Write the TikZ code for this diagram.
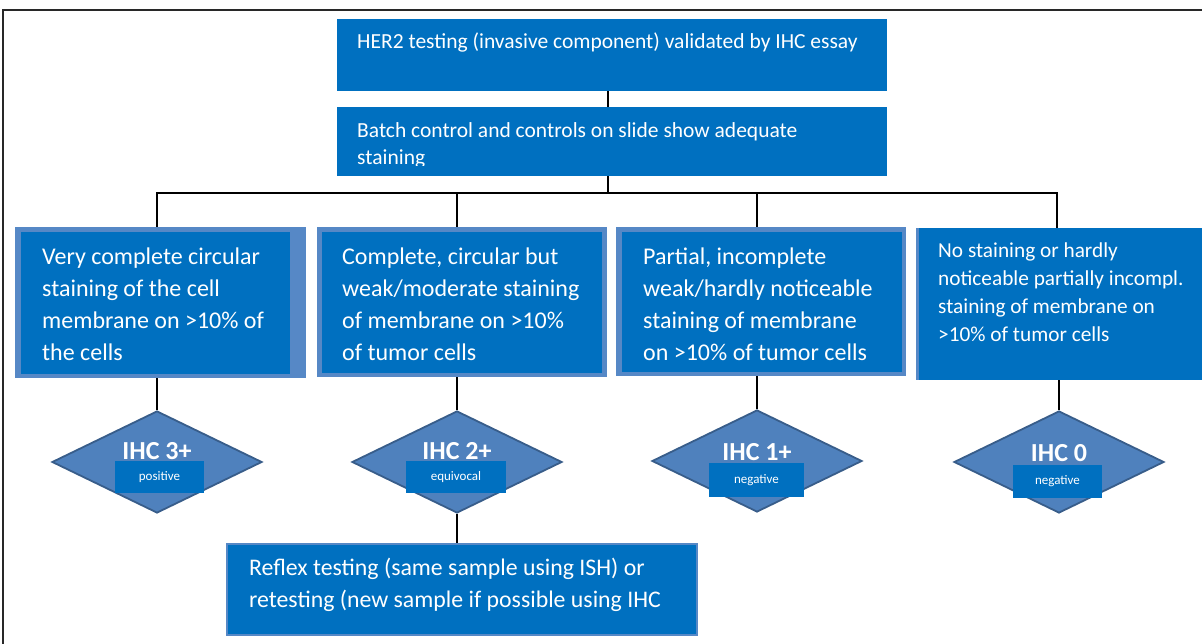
\documentclass[tikz,border=0pt]{standalone}
\usepackage{fontspec}
\setmainfont{Carlito}
\usetikzlibrary{shapes.geometric,calc}
\definecolor{mainblue}{RGB}{0,112,192}
\definecolor{lightblue}{RGB}{86,136,198}
\definecolor{diafill}{RGB}{79,129,189}
\definecolor{diaedge}{RGB}{56,93,138}
\definecolor{framegray}{RGB}{40,40,40}
\newcommand{\tlines}[2]{\parbox[t]{#1}{\raggedright #2}}
\begin{document}
\begin{tikzpicture}[x=1pt,y=-1pt,
  flatbox/.style={rectangle, fill=mainblue, inner sep=0pt, anchor=north west},
  outerbox/.style={rectangle, fill=lightblue, inner sep=0pt, anchor=north west},
  txt/.style={anchor=base west, inner sep=0pt, text=white},
  conn/.style={draw=black, line width=2pt},
  dia/.style={diamond, fill=diafill, draw=diaedge, line width=1.8pt, inner sep=0pt,
    minimum width=210pt, minimum height=102pt},
  ihc/.style={anchor=base, inner sep=0pt, text=white, font=\fontsize{26}{30}\selectfont\bfseries},
  tag/.style={rectangle, fill=mainblue, inner sep=0pt, minimum width=90pt, minimum height=32pt,
    text=white, font=\fontsize{13}{15}\selectfont}
]
\useasboundingbox (0,0) rectangle (1202,644);
\fill[white] (0,0) rectangle (1202,644);
% frame
\draw[framegray, line width=1.5pt] (3,644) -- (3,10) -- (1202,10);

% top boxes
\node[flatbox, minimum width=550pt, minimum height=72pt] (her) at (337,19) {};
\node[txt, font=\fontsize{21.5}{26}\selectfont] (hertxt) at (357,49) {HER2 testing (invasive component) validated by IHC essay};
\node[flatbox, minimum width=550pt, minimum height=69pt] (batch) at (337,107) {};
\begin{scope}
\clip (337,107) rectangle (887,166);
\node[txt, font=\fontsize{21.5}{27}\selectfont] (batchtxt) at (357,138) {\tlines{520pt}{Batch control and controls on slide show adequate\\staining}};
\end{scope}

% category boxes
\node[outerbox, minimum width=291pt, minimum height=151pt] (b1) at (15,227) {};
\fill[mainblue] ($(b1.north west)+(6,5)$) rectangle ($(b1.south east)+(-16,-4)$);
\node[outerbox, minimum width=290pt, minimum height=150pt] (b2) at (317,227) {};
\fill[mainblue] ($(b2.north west)+(5,5)$) rectangle ($(b2.south east)+(-5,-4)$);
\node[outerbox, minimum width=290pt, minimum height=149pt] (b3) at (616,227) {};
\fill[mainblue] ($(b3.north west)+(6,5)$) rectangle ($(b3.south east)+(-4,-4)$);
\node[flatbox, minimum width=290pt, minimum height=152pt] (b4) at (916,228) {};
\fill[lightblue] (b4.north west) rectangle ($(b4.south west)+(3,0)$);

\node[txt, font=\fontsize{24}{32}\selectfont] (t1) at (42,265) {\tlines{280pt}{Very complete circular\\staining of the cell\\membrane on >10\% of\\the cells}};
\node[txt, font=\fontsize{24}{32}\selectfont] (t2) at (342,265) {\tlines{280pt}{Complete, circular but\\weak/moderate staining\\of membrane on >10\%\\of tumor cells}};
\node[txt, font=\fontsize{24}{32}\selectfont] (t3) at (643,265) {\tlines{280pt}{Partial, incomplete\\weak/hardly noticeable\\staining of membrane\\on >10\% of tumor cells}};
\node[txt, font=\fontsize{21.3}{28}\selectfont] (t4) at (938,258) {\tlines{280pt}{No staining or hardly\\noticeable partially incompl.\\staining of membrane on\\>10\% of tumor cells}};

% diamonds
\node[dia] (d1) at (157,462) {};
\node[dia] (d2) at (457,462) {};
\node[dia] (d3) at (757,461) {};
\node[dia] (d4) at (1059,462) {};
\node[ihc] (l1) at (157,459) {IHC 3+};
\node[ihc] (l2) at (457,459) {IHC 2+};
\node[ihc] (l3) at (757,460) {IHC 1+};
\node[ihc] (l4) at (1059,461) {IHC 0};
\node[tag, minimum width=89pt] (g1) at (159.5,477) {positive};
\node[tag, minimum width=100pt] (g2) at (456,477) {equivocal};
\node[tag, minimum width=95pt, minimum height=34pt] (g3) at (756.5,480) {negative};
\node[tag, minimum width=89pt, minimum height=33pt] (g4) at (1057.5,481.5) {negative};

% reflex box
\node[flatbox, draw=lightblue, line width=2.5pt, minimum width=470pt, minimum height=91pt] (rf) at (225.5,542.5) {};
\node[txt, font=\fontsize{23.8}{32}\selectfont] (rftxt) at (249,575) {\tlines{450pt}{Reflex testing (same sample using ISH) or\\retesting (new sample if possible using IHC}};

% connectors
\coordinate (j) at (608,193);
\draw[conn] (her.south -| j) -- (batch.north -| j);
\draw[conn] (batch.south -| j) -- (j);
\coordinate (c1) at (157,193);
\coordinate (c2) at (457,193);
\coordinate (c3) at (757,193);
\coordinate (c4) at (1057,193);
\draw[conn] (b1.north -| c1) -- (c1) -- (c4) -- (b4.north -| c4);
\draw[conn] (c2) -- (b2.north -| c2);
\draw[conn] (c3) -- (b3.north -| c3);
\draw[conn] (b1.south -| d1) -- (d1.north);
\draw[conn] (b2.south -| d2) -- (d2.north);
\draw[conn] (b3.south -| d3) -- (d3.north);
\draw[conn] (b4.south -| d4) -- (d4.north);
\draw[conn] (d2.south) -- (rf.north -| d2);
\end{tikzpicture}
\end{document}
